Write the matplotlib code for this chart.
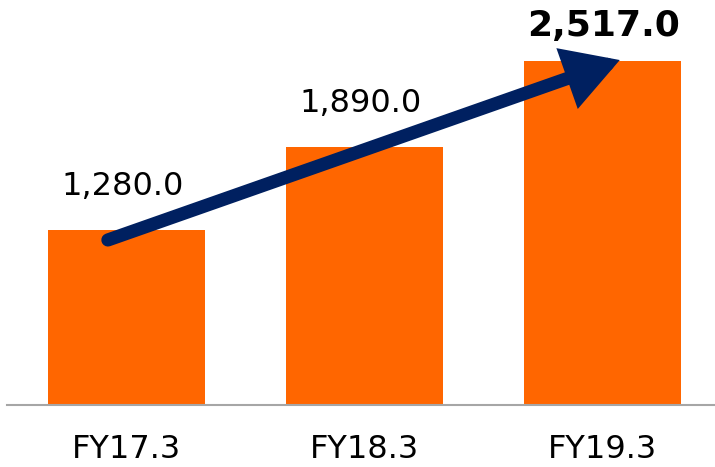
import matplotlib
matplotlib.use("Agg")
import matplotlib.pyplot as plt

# Data

years = ["FY17.3", "FY18.3", "FY19.3"]
values = [1280.0, 1890.0, 2517.0]

BAR_COLOR = "#FF6600"
ARROW_COLOR = "#002060"

fig = plt.figure(figsize=(7.15, 4.67), dpi=100)
ax = fig.add_axes([7 / 715, 62 / 467, 708 / 715, 405 / 467])

positions = range(len(years))
ax.bar(positions, values, width=0.66, color=BAR_COLOR, zorder=2)

ax.set_xlim(-0.502, 2.473)
ax.set_ylim(0, 2962)

# Value labels (last one bold)

for i, v in enumerate(values):
    last = i == len(values) - 1
    ax.annotate(
        f"{v:,.1f}",
        xy=(i, v),
        xytext=(1 if last else -3, 18 if last else 25),
        textcoords="offset points",
        ha="center",
        va="baseline",
        fontsize=26 if last else 23,
        fontweight="bold" if last else "normal",
        color="black",
        zorder=4
    )

# Growth arrow

ax.annotate(
    "",
    xy=(2.073, 2523),
    xytext=(-0.078, 1207),
    arrowprops=dict(
        arrowstyle="-|>,head_length=1.3,head_width=0.75",
        mutation_scale=20,
        lw=9.5,
        color=ARROW_COLOR,
        capstyle="round",
        joinstyle="miter",
        shrinkA=0,
        shrinkB=0
    ),
    zorder=3
)

# Axis styling

for side in ["top", "right", "left"]:
    ax.spines[side].set_visible(False)
ax.spines["bottom"].set_color("#A6A6A6")
ax.spines["bottom"].set_linewidth(1.5)

ax.set_yticks([])
ax.set_xticks(list(positions))
ax.set_xticklabels(years, fontsize=23)
ax.tick_params(axis="x", length=0, pad=21)

fig.savefig("out.png", dpi=100)
